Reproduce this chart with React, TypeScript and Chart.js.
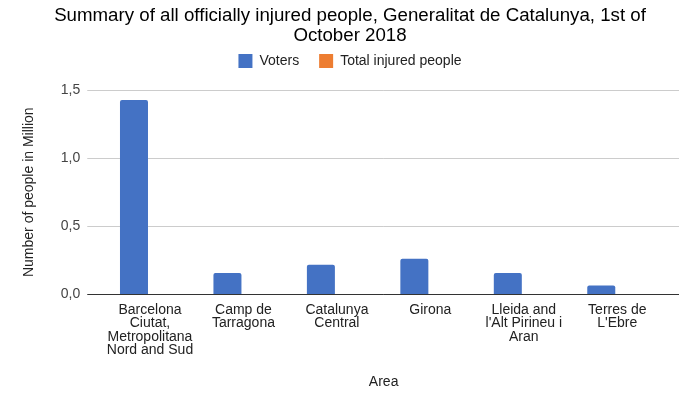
import React, { useEffect, useRef } from "react";
import { Chart, registerables } from "chart.js";

Chart.register(...registerables);

const categories: (string | string[])[] = [
  ["Barcelona", "Ciutat,", "Metropolitana", "Nord and Sud"],
  ["Camp de", "Tarragona"],
  ["Catalunya", "Central"],
  "Girona",
  ["Lleida and", "l'Alt Pirineu i", "Aran"],
  ["Terres de", "L'Ebre"],
];
const voters = [1.426, 0.157, 0.218, 0.262, 0.157, 0.066];
const injured = [0.00068, 0.00008, 0.00005, 0.00019, 0.00008, 0.00003];
const yTicks = [0, 0.5, 1.0, 1.5];

const FONT = "'Liberation Sans', Arial, sans-serif";

const gridPlugin = {
  id: "extGrid",
  beforeInit(chart: any) {
    const lg = chart.legend;
    if (lg && !lg.__patched) {
      const orig = lg.fit;
      lg.fit = function (this: any) {
        orig.call(this);
        this.height += 12;
      };
      lg.__patched = true;
    }
  },
  beforeDatasetsDraw(chart: any) {
    const { ctx, chartArea, scales } = chart;
    const y = scales.y;
    ctx.save();
    ctx.lineWidth = 1;
    y.ticks.forEach((t: any) => {
      if (t.value === 0) return;
      const py = Math.round(y.getPixelForValue(t.value)) + 0.5;
      ctx.strokeStyle = "#cccccc";
      ctx.beginPath();
      ctx.moveTo(chartArea.left - 16, py);
      ctx.lineTo(chartArea.right + 15, py);
      ctx.stroke();
    });
    ctx.restore();
  },
  afterDatasetsDraw(chart: any) {
    const { ctx, chartArea, scales } = chart;
    const y = scales.y;
    const py = Math.round(y.getPixelForValue(0)) + 0.5;
    ctx.save();
    ctx.lineWidth = 1;
    ctx.strokeStyle = "#333333";
    ctx.beginPath();
    ctx.moveTo(chartArea.left - 16, py);
    ctx.lineTo(chartArea.right + 15, py);
    ctx.stroke();
    ctx.restore();
  },
};

export default function App() {
  const ref = useRef<HTMLCanvasElement | null>(null);
  useEffect(() => {
    document.body.style.margin = "0";
    const chart = new Chart(ref.current as HTMLCanvasElement, {
      type: "bar",
      data: {
        labels: categories,
        datasets: [
          {
            label: "Voters",
            data: voters,
            backgroundColor: "#4472c4",
            borderRadius: { topLeft: 2, topRight: 2 },
            borderSkipped: "bottom",
            categoryPercentage: 0.685,
            barPercentage: 0.875,
          },
          {
            label: "Total injured people",
            data: injured,
            backgroundColor: "#ed7d31",
            categoryPercentage: 0.685,
            barPercentage: 0.875,
          },
        ],
      },
      options: {
        responsive: false,
        animation: false,
        maintainAspectRatio: false,
        layout: { padding: { left: 21, right: 21, top: 0, bottom: 3 } },
        plugins: {
          title: {
            display: true,
            text: [
              "Summary of all officially injured people, Generalitat de Catalunya, 1st of",
              "October 2018",
            ],
            color: "#000",
            font: { family: FONT, size: 18.7, weight: "normal", lineHeight: 1.07 },
            padding: { top: 6, bottom: -12 },
          },
          legend: {
            display: true,
            position: "top",
            labels: {
              color: "#222",
              font: { family: FONT, size: 14, lineHeight: 1.0 },
              boxWidth: 14,
              boxHeight: 14,
              padding: 20,
            },
          },
          tooltip: { enabled: false },
        },
        scales: {
          x: {
            grid: { display: false },
            border: { display: false },
            ticks: {
              color: "#222",
              font: { family: FONT, size: 14, lineHeight: 0.96 },
              maxRotation: 0,
              autoSkip: false,
              padding: 1,
            },
            title: {
              display: true,
              text: "Area",
              color: "#222",
              font: { family: FONT, size: 14 },
              padding: { top: 16, bottom: 0 },
            },
          },
          y: {
            min: 0,
            max: 1.5,
            afterBuildTicks: (scale: any) => {
              scale.ticks = yTicks.map((v) => ({ value: v }));
            },
            grid: { display: false },
            border: { display: false },
            ticks: {
              color: "#444",
              font: { family: FONT, size: 14 },
              padding: 15,
              callback: (v: any) => Number(v).toFixed(1).replace(".", ","),
            },
            title: {
              display: true,
              text: "Number of people in Million",
              color: "#222",
              font: { family: FONT, size: 14 },
              padding: { top: 0, bottom: 8 },
            },
          },
          y2: {
            position: "right",
            display: true,
            grid: { display: false },
            border: { display: false },
            ticks: { display: false },
            afterFit: (scale: any) => {
              scale.width = 15;
            },
          },
        },
      },
      plugins: [gridPlugin],
    });
    return () => chart.destroy();
  }, []);
  return (
    <div style={{ position: "absolute", left: 0, top: 0, width: 700, height: 394, background: "#fff" }}>
      <canvas ref={ref} width={700} height={394} />
    </div>
  );
}
